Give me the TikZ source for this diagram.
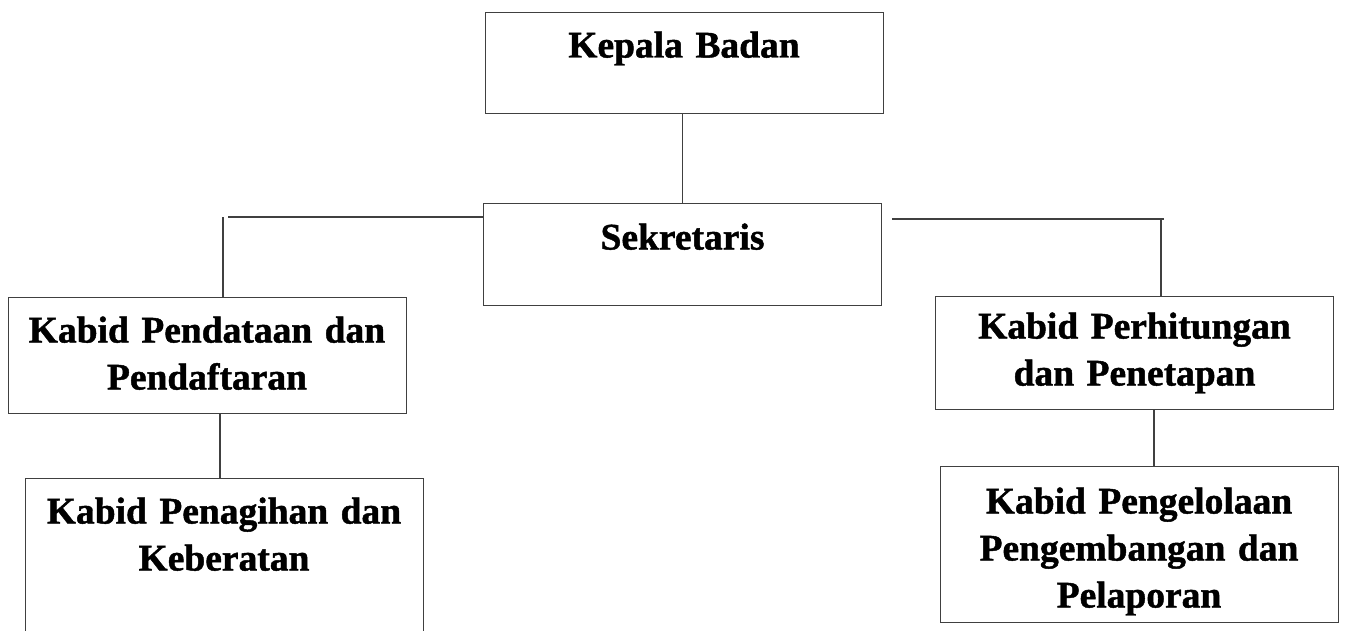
\documentclass[tikz,border=0pt]{standalone}
\usepackage{fontspec}
\setmainfont{Liberation Serif}[WordSpace=0.8,BoldFeatures={FakeBold=1.2}]
\usetikzlibrary{positioning}

\begin{document}
\begin{tikzpicture}[x=1pt,y=-1pt]
			\useasboundingbox (0,0) rectangle (1346,631);
			\begin{scope}[every node/.style={draw=black!75,line width=1pt,anchor=north,align=center,
                      minimum width=398pt,text width=394pt,inner sep=0pt,
                      font=\fontsize{37.5}{47}\selectfont\bfseries}]
    \node[text height=45pt,text depth=56pt] (kepala) at (684,12) {Kepala Badan};
    \node[text height=46pt,text depth=56pt] (sekretaris) at (682.5,203) {Sekretaris};
    \node[text height=45pt,text depth=71pt] (pendataan) at (207,297) {Kabid Pendataan dan\\Pendaftaran};
    \node[text height=45pt,text depth=140pt] (penagihan) at (224,478) {Kabid Penagihan dan\\Keberatan};
    \node[text height=42pt,text depth=71pt] (perhitungan) at (1134.5,296) {Kabid Perhitungan\\dan Penetapan};
    \node[text height=47pt,text depth=109pt] (pengelolaan) at (1139,466) {Kabid Pengelolaan\\Pengembangan dan\\Pelaporan};
			\end{scope}
    \coordinate (lcorner) at (228,217);
    \coordinate (ldrop) at (223,217);
    \coordinate (rstart) at (892,219);
    \coordinate (rcorner) at (1164,219);
    \coordinate (rdrop) at (1161,219);
    \coordinate (lmid) at (220,0);
    \coordinate (rmid) at (1154,0);
			\begin{scope}[every path/.style={draw=black!75,line width=1.1pt}]
    \path (kepala.south -| sekretaris.north) -- (sekretaris.north);
    \path (sekretaris.west |- lcorner) -- (lcorner);
    \path (ldrop) -- (ldrop |- pendataan.north);
    \path (rstart) -- (rcorner);
    \path (rdrop) -- (rdrop |- perhitungan.north);
    \path (pendataan.south -| lmid) -- (penagihan.north -| lmid);
    \path (perhitungan.south -| rmid) -- (pengelolaan.north -| rmid);
			\end{scope}
		\end{tikzpicture}
\end{document}
